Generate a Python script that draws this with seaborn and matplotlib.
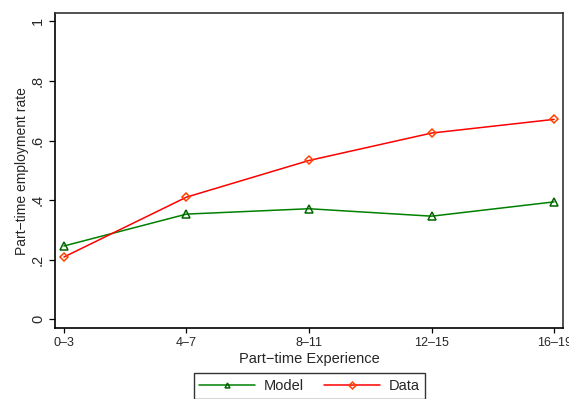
import matplotlib
matplotlib.use("Agg")
import matplotlib.pyplot as plt
import seaborn as sns
import pandas as pd
import numpy as np

categories = ["0–3", "4–7", "8–11", "12–15", "16–19"]
model = [0.246, 0.353, 0.371, 0.346, 0.394]
data = [0.209, 0.410, 0.533, 0.625, 0.671]
yticks = [0, 0.2, 0.4, 0.6, 0.8, 1.0]
ytick_labels = ["0", ".2", ".4", ".6", ".8", "1"]

sns.set_theme(style="white")
plt.rcParams['font.family'] = ['Liberation Sans', 'DejaVu Sans']

fig = plt.figure(figsize=(5.69, 3.99), dpi=100)
ax = fig.add_axes([0.0967, 0.1767, 0.8928, 0.7907])

xpos = np.arange(len(categories))
df = pd.DataFrame({"x": xpos, "Model": model, "Data": data})

sns.lineplot(data=df, x="x", y="Model", ax=ax, color="#008000", marker="^",
             markersize=5.5, markerfacecolor="none", markeredgecolor="#006400",
             markeredgewidth=1.1, linewidth=1.1, label="Model")
sns.lineplot(data=df, x="x", y="Data", ax=ax, color="#ff0000", marker="D",
             markersize=4.5, markerfacecolor="none", markeredgecolor="#ff4500",
             markeredgewidth=1.1, linewidth=1.1, label="Data")

ax.set_xlim(-0.073, 4.073)
ax.set_ylim(-0.031, 1.028)
ax.set_xticks(xpos)
ax.set_xticklabels(categories, fontsize=9)
ax.set_yticks(yticks)
ax.set_yticklabels(ytick_labels, fontsize=10.5, rotation=90, va="center")
ax.tick_params(axis="x", direction="out", length=3.6, width=0.9, color="black",
               bottom=True, pad=2.5)
ax.tick_params(axis="y", direction="out", length=4.3, width=0.9, color="black",
               left=True, pad=3)
ax.set_xlabel("Part−time Experience", fontsize=10.5, labelpad=2)
ax.set_ylabel("Part−time employment rate", fontsize=10, labelpad=1)
for name, s in ax.spines.items():
    s.set_color("black" if name in ("left", "bottom") else "#333333")
    s.set_linewidth(1.2)

leg = ax.get_legend()
if leg is not None:
    leg.remove()
handles, labels = ax.get_legend_handles_labels()
lg = fig.legend(handles, labels, loc="upper center", bbox_to_anchor=(0.5437, 0.0644),
                ncol=2, frameon=True, fancybox=False, fontsize=10.5,
                handlelength=3.8, handletextpad=0.6, columnspacing=1.4,
                borderpad=0.4, borderaxespad=0)
lg.get_frame().set_edgecolor("black")
lg.get_frame().set_linewidth(1.0)
for h in lg.legend_handles:
    h.set_markersize(3.5)

fig.savefig("out.png", dpi=100)
